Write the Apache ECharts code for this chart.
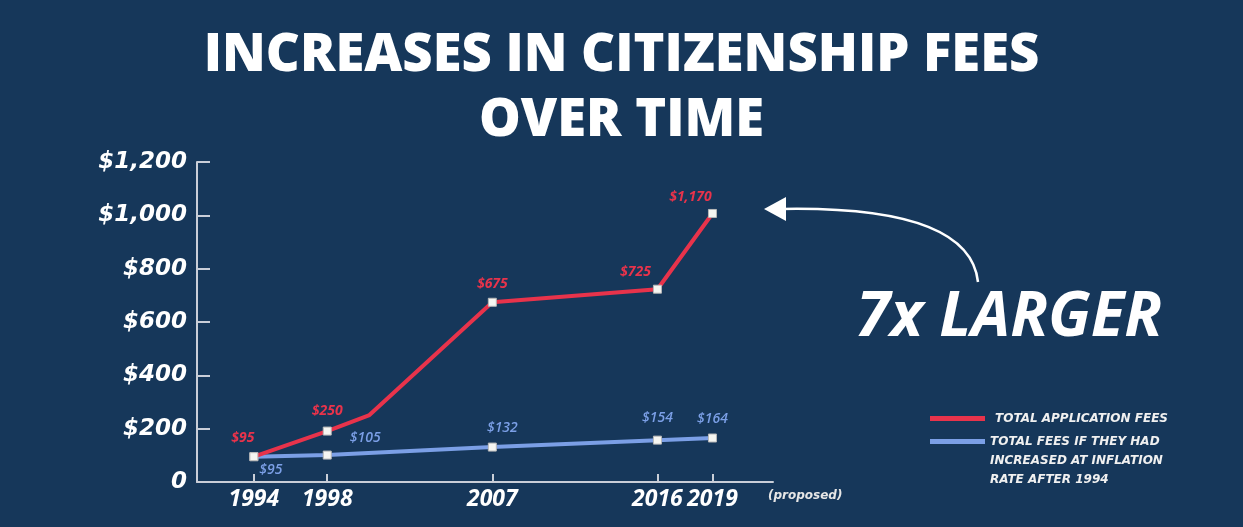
<!DOCTYPE html>
<html><head><meta charset="utf-8">
<script src="https://cdn.jsdelivr.net/npm/echarts@6/dist/echarts.min.js"></script>
<style>html,body{margin:0;padding:0;background:#16375a;}#c{width:1243px;height:527px;}</style>
</head><body><div id="c"></div>
<script>
// ---- data ----
const tickYears = [1994, 1998, 2007, 2016, 2019];
const yTicks = [0, 200, 400, 600, 800, 1000, 1200];
const totalFeeYears = [1994, 1998, 2000.3, 2007, 2016, 2019];
const totalFeeValues = [95, 191, 251, 674, 723, 1007];
const totalFeeLabels = ['$95', '$250', '', '$675', '$725', '$1,170'];
const inflationYears = [1994, 1998, 2007, 2016, 2019];
const inflationValues = [95, 101, 131, 157, 165];
const inflationLabels = ['$95', '$105', '$132', '$154', '$164'];
const seriesNames = ['TOTAL APPLICATION FEES', 'TOTAL FEES IF THEY HAD\nINCREASED AT INFLATION\nRATE AFTER 1994'];
const titleText = 'INCREASES IN CITIZENSHIP FEES\nOVER TIME';
const calloutText = '7x LARGER';
const proposedText = '(proposed)';

// ---- styles (label placement) ----
const redLabelOffsets = [[-11, -2], [0, -4], [0, 0], [0, -2], [-22, -1], [-22, 0]];
const blueLabelPos = ['bottom', 'top', 'top', 'top', 'top'];
const blueLabelOffsets = [[17, -3], [38, -1], [10, -3], [0, -6], [0, -2]];

const RED = '#e8334b', BLUE = '#7b9fe6', AXIS = '#c9ced8';
const FONT = '"Open Sans", "DejaVu Sans", sans-serif';
const WIDE = '"DejaVu Sans", sans-serif';

const redData = totalFeeYears.map((x, i) => ({
  value: [x, totalFeeValues[i]],
  symbolSize: totalFeeLabels[i] ? 8 : 0,
  label: { show: !!totalFeeLabels[i], offset: redLabelOffsets[i], formatter: totalFeeLabels[i] }
}));
const blueData = inflationYears.map((x, i) => ({
  value: [x, inflationValues[i]],
  label: { position: blueLabelPos[i], offset: blueLabelOffsets[i], formatter: inflationLabels[i] }
}));

const legendText = { color: '#f0f0f0', fontFamily: WIDE, fontWeight: 'bold', fontStyle: 'italic', fontSize: 12, lineHeight: 19 };

const chart = echarts.init(document.getElementById('c'));
chart.setOption({
  backgroundColor: '#16375a',
  animation: false,
  title: {
    text: titleText, left: 'center', top: 24, padding: 0,
    textStyle: { color: '#ffffff', fontFamily: FONT, fontWeight: 800, fontSize: 52.5, lineHeight: 65 }
  },
  legend: [
    {
      data: [{ name: seriesNames[0], itemStyle: { color: RED, borderWidth: 0 } }],
      left: 930, top: 409, padding: 0, orient: 'vertical',
      itemWidth: 55, itemHeight: 5, icon: 'rect',
      formatter: n => '{t|' + n + '}',
      textStyle: Object.assign({}, legendText, { rich: { t: Object.assign({}, legendText, { padding: [0, 0, 0, 5] }) } })
    },
    {
      data: [{ name: seriesNames[1], itemStyle: { color: BLUE, borderWidth: 0 } }],
      left: 930, top: 394, padding: 0, orient: 'vertical',
      itemWidth: 55, itemHeight: 5, icon: 'rect',
      formatter: n => '\n\n' + n,
      textStyle: legendText
    }
  ],
  grid: { left: 197, right: 470, top: 162, bottom: 45, containLabel: false },
  xAxis: {
    type: 'value', min: 1990.9, max: 2022.3,
    splitLine: { show: false },
    axisLine: { show: true, lineStyle: { color: AXIS, width: 2 } },
    axisTick: { show: true, inside: true, length: 8, customValues: tickYears, lineStyle: { color: AXIS, width: 2 } },
    axisLabel: {
      customValues: tickYears, margin: 6, color: '#ffffff', fontFamily: FONT,
      fontWeight: 'bold', fontStyle: 'italic', fontSize: 23, formatter: v => String(v)
    }
  },
  yAxis: {
    type: 'value', min: 0, max: 1200, interval: 200,
    splitLine: { show: false },
    axisLine: { show: true, lineStyle: { color: AXIS, width: 2 } },
    axisTick: { show: true, inside: true, length: 13, lineStyle: { color: AXIS, width: 2 } },
    axisLabel: {
      margin: 10, color: '#ffffff', fontFamily: WIDE, fontWeight: 'bold', fontStyle: 'italic', fontSize: 23,
      formatter: v => v === 0 ? '0' : '$' + v.toLocaleString('en-US')
    }
  },
  series: [
    {
      name: seriesNames[0], type: 'line', data: redData, z: 3, color: RED,
      lineStyle: { color: RED, width: 4 }, symbol: 'rect', symbolSize: 8,
      itemStyle: { color: '#f6f6f2', borderColor: '#b8b8b8', borderWidth: 1 },
      label: { show: true, position: 'top', color: RED, fontFamily: FONT, fontStyle: 'italic', fontWeight: 'bold', fontSize: 14 },
      emphasis: { disabled: true }
    },
    {
      name: seriesNames[1], type: 'line', data: blueData, z: 2, color: BLUE,
      lineStyle: { color: BLUE, width: 4 }, symbol: 'rect', symbolSize: 8,
      itemStyle: { color: '#f6f6f2', borderColor: '#b8b8b8', borderWidth: 1 },
      label: { show: true, color: BLUE, fontFamily: FONT, fontStyle: 'italic', fontWeight: 600, fontSize: 14 },
      emphasis: { disabled: true }
    }
  ],
  graphic: [
    { type: 'text', left: 768, top: 490, style: { text: proposedText, fill: '#e6e6e6', font: 'italic bold 12px ' + WIDE } },
    { type: 'text', left: 856, top: 287, style: { text: calloutText, fill: '#ffffff', font: 'italic bold 62px ' + FONT } },
    { type: 'bezierCurve', shape: { x1: 978, y1: 282, cpx1: 972, cpy1: 228, cpx2: 900, cpy2: 207, x2: 782, y2: 209 },
      style: { stroke: '#ffffff', lineWidth: 2.5, fill: null } },
    { type: 'polygon', shape: { points: [[764, 209], [786, 197], [786, 221]] }, style: { fill: '#ffffff' } }
  ]
});
</script>
</body></html>
